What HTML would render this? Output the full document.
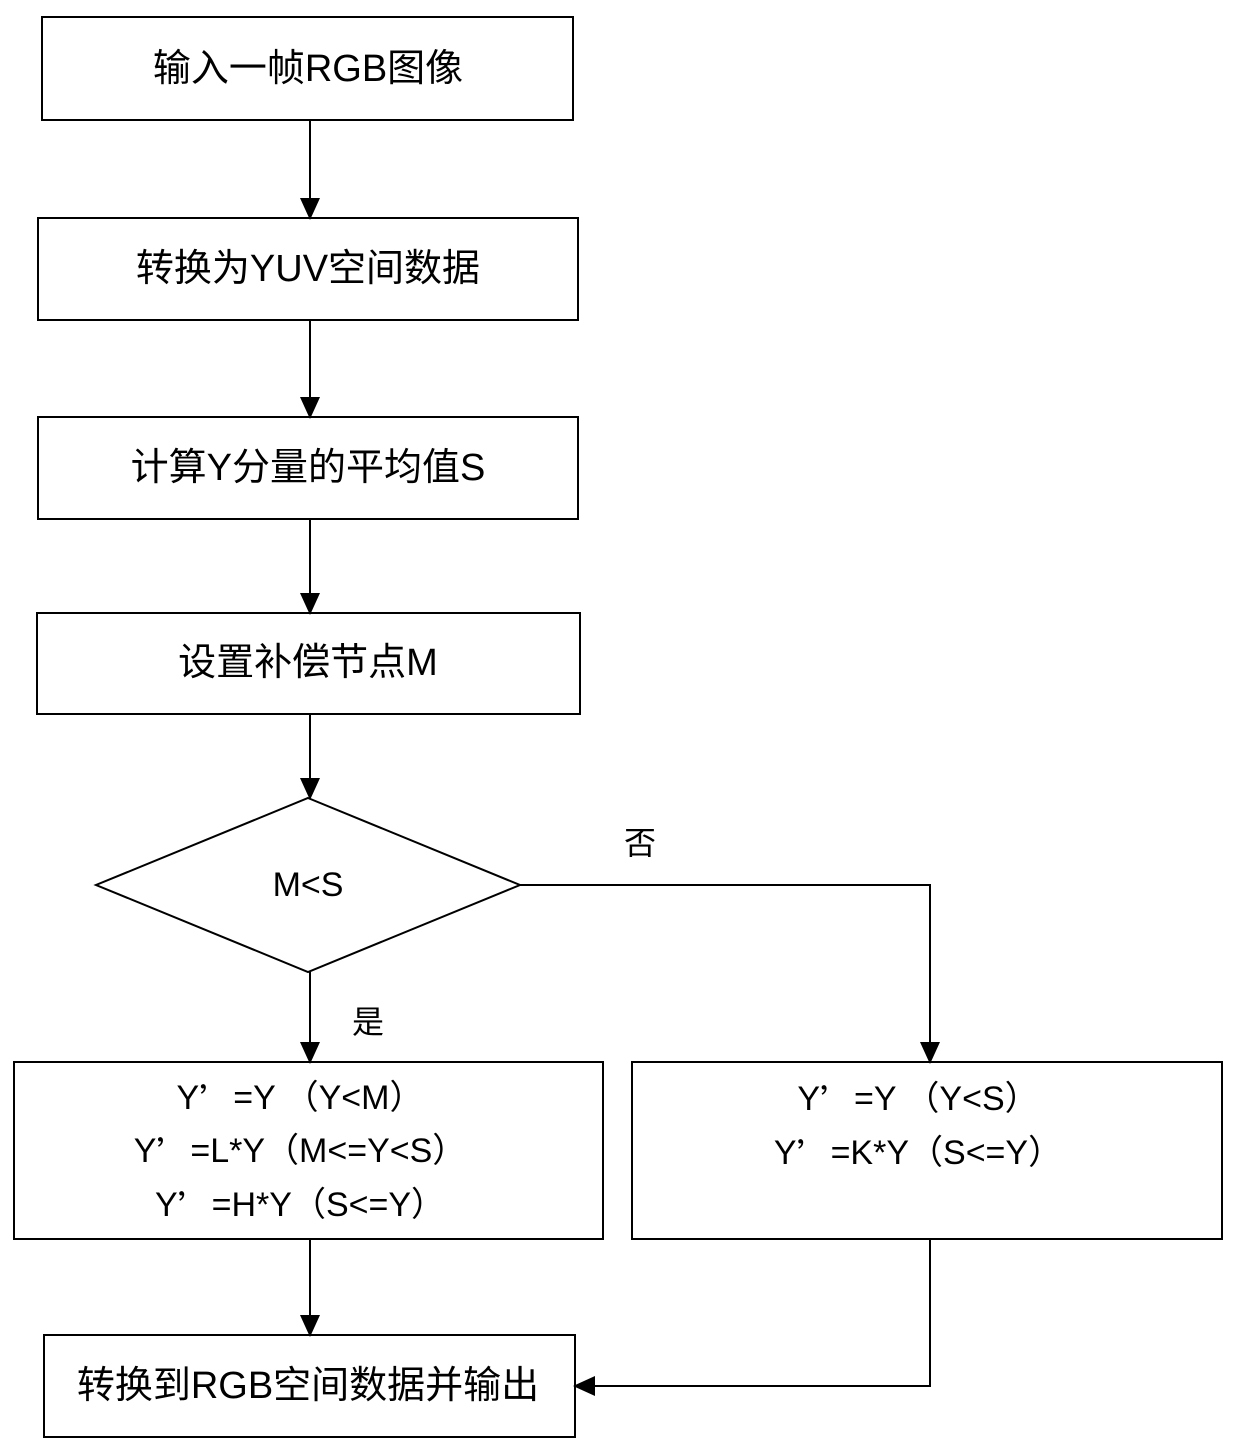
<!DOCTYPE html>
<html><head><meta charset="utf-8"><style>
html,body{margin:0;padding:0;background:#fff}
svg{display:block}
text{font-family:"Liberation Sans","Noto Sans CJK SC",sans-serif;font-size:38px;fill:#000;text-anchor:middle;dominant-baseline:central}
.c{font-family:"Noto Sans CJK SC",sans-serif}
</style></head><body>
<svg width="1240" height="1453" viewBox="0 0 1240 1453" xmlns="http://www.w3.org/2000/svg">
<defs><marker id="a" markerWidth="22" markerHeight="20" refX="20" refY="10" orient="auto" markerUnits="userSpaceOnUse"><path d="M0,0 L22,10 L0,20 z" fill="#000"/></marker></defs>
<g fill="none" stroke="#000" stroke-width="2">
<rect x="42" y="17" width="531" height="103"/>
<rect x="38" y="218" width="540" height="102"/>
<rect x="38" y="417" width="540" height="102"/>
<rect x="37" y="613" width="543" height="101"/>
<polygon points="308,798 520,885 308,972 96,885"/>
<rect x="14" y="1062" width="589" height="177"/>
<rect x="632" y="1062" width="590" height="177"/>
<rect x="44" y="1335" width="531" height="102"/>
<line x1="310" y1="120" x2="310" y2="218" marker-end="url(#a)"/>
<line x1="310" y1="320" x2="310" y2="417" marker-end="url(#a)"/>
<line x1="310" y1="519" x2="310" y2="613" marker-end="url(#a)"/>
<line x1="310" y1="714" x2="310" y2="798" marker-end="url(#a)"/>
<line x1="310" y1="972" x2="310" y2="1062" marker-end="url(#a)"/>
<polyline points="520,885 930,885 930,1062" marker-end="url(#a)"/>
<line x1="310" y1="1239" x2="310" y2="1335" marker-end="url(#a)"/>
<polyline points="930,1239 930,1386 575,1386" marker-end="url(#a)"/>
</g>
<text x="308" y="69">输入一帧RGB图像</text>
<text x="308" y="269">转换为YUV空间数据</text>
<text x="308" y="468">计算Y分量的平均值S</text>
<text x="308" y="663">设置补偿节点M</text>
<text x="308" y="885" style="font-size:34px">M&lt;S</text>
<text x="640" y="843" style="font-size:32px">否</text>
<text x="368" y="1022" style="font-size:32px">是</text>
<text x="300" y="1098" style="font-size:34px">Y<tspan class="c">’</tspan>=Y （Y&lt;M）</text>
<text x="300" y="1151" style="font-size:34px">Y<tspan class="c">’</tspan>=L*Y（M&lt;=Y&lt;S）</text>
<text x="300" y="1205" style="font-size:34px">Y<tspan class="c">’</tspan>=H*Y（S&lt;=Y）</text>
<text x="918" y="1099" style="font-size:34px">Y<tspan class="c">’</tspan>=Y （Y&lt;S）</text>
<text x="918" y="1153" style="font-size:34px">Y<tspan class="c">’</tspan>=K*Y（S&lt;=Y）</text>
<text x="308" y="1386">转换到RGB空间数据并输出</text>
</svg>
</body></html>
